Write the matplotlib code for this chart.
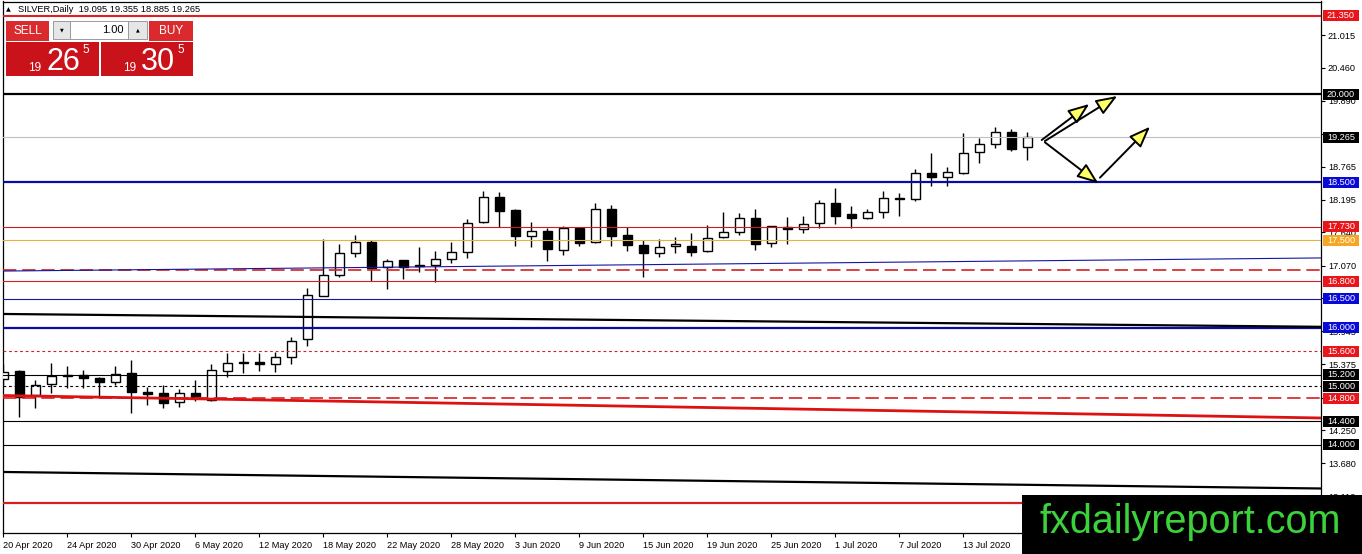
import numpy as np
import pandas as pd
import matplotlib
matplotlib.use('Agg')
import matplotlib.pyplot as plt
import matplotlib.transforms as mtransforms
from matplotlib.patches import Rectangle, FancyArrowPatch

# SILVER daily candles, 20 Apr - 17 Jul 2020
dates = pd.bdate_range('2020-04-20', periods=65)
opens = [15.126, 15.268, 14.852, 15.040, 15.190, 15.199, 15.138, 15.080, 15.229, 14.900,
         14.880, 14.727, 14.890, 14.766, 15.268, 15.410, 15.417, 15.378, 15.498, 15.806,
         16.553, 16.903, 17.280, 17.478, 17.040, 17.165, 17.085, 17.079, 17.187, 17.297,
         17.810, 18.239, 18.021, 17.581, 17.661, 17.341, 17.708, 17.468, 18.033, 17.593,
         17.416, 17.279, 17.399, 17.404, 17.319, 17.553, 17.639, 17.879, 17.450, 17.735,
         17.690, 17.793, 18.136, 17.953, 17.879, 17.982, 18.233, 18.205, 18.650, 18.592,
         18.650, 19.010, 19.152, 19.352, 19.095]
highs = [15.383, 15.280, 15.109, 15.395, 15.340, 15.280, 15.155, 15.350, 15.450, 14.994,
         15.023, 14.950, 15.109, 15.383, 15.577, 15.577, 15.577, 15.594, 15.851, 16.680,
         17.524, 17.440, 17.593, 17.500, 17.190, 17.170, 17.393, 17.314, 17.473, 17.862,
         18.347, 18.325, 18.030, 17.810, 17.718, 17.747, 17.715, 18.136, 18.107, 17.735,
         17.500, 17.519, 17.553, 17.632, 17.764, 17.992, 17.964, 18.033, 17.750, 17.896,
         17.918, 18.193, 18.393, 18.090, 18.033, 18.347, 18.318, 18.724, 18.993, 18.753,
         19.335, 19.250, 19.438, 19.404, 19.355]
lows = [14.994, 14.480, 14.624, 14.890, 14.967, 14.970, 14.835, 15.020, 14.550, 14.680,
        14.634, 14.650, 14.754, 14.750, 15.155, 15.224, 15.268, 15.250, 15.383, 15.690,
        16.550, 16.880, 17.210, 16.810, 16.660, 16.834, 16.964, 16.793, 17.118, 17.204,
        17.790, 17.735, 17.410, 17.393, 17.153, 17.255, 17.410, 17.460, 17.410, 17.324,
        16.879, 17.220, 17.279, 17.233, 17.310, 17.545, 17.593, 17.336, 17.382, 17.434,
        17.632, 17.708, 17.776, 17.708, 17.875, 17.890, 17.924, 18.180, 18.432, 18.432,
        18.645, 18.821, 19.078, 19.037, 18.885]
closes = [15.251, 14.812, 15.023, 15.177, 15.170, 15.138, 15.080, 15.206, 14.898, 14.875,
          14.710, 14.880, 14.795, 15.280, 15.395, 15.400, 15.378, 15.498, 15.782, 16.560,
          16.903, 17.280, 17.478, 17.033, 17.140, 17.050, 17.062, 17.177, 17.297, 17.793,
          18.239, 18.010, 17.581, 17.661, 17.358, 17.708, 17.451, 18.033, 17.581, 17.427,
          17.290, 17.382, 17.433, 17.307, 17.537, 17.639, 17.879, 17.434, 17.747, 17.690,
          17.776, 18.136, 17.924, 17.890, 17.982, 18.222, 18.205, 18.650, 18.581, 18.667,
          18.993, 19.147, 19.352, 19.066, 19.265]

# horizontal levels: price, colour, width, style, label colour (None = no label)
levels = [
    (21.350, '#e02020', 1.5, '-', '#e8161b'),
    (20.000, 'black', 1.6, '-', 'black'),
    (19.265, '#c0c0c0', 0.8, '-', 'black'),
    (18.500, '#0a0aa8', 1.6, '-', '#0a0ad8'),
    (17.730, '#c81e1e', 0.8, '-', '#e8161b'),
    (17.500, '#e8b040', 0.8, '-', '#f5a623'),
    (17.000, '#d42020', 1.2, (0, (8, 3.5)), None),
    (16.800, '#d42020', 0.8, '-', '#e8161b'),
    (16.500, '#1515a0', 0.8, '-', '#0a0ad8'),
    (16.000, '#0a0aa8', 1.6, '-', '#0a0ad8'),
    (15.600, '#d42020', 0.8, (0, (2.5, 2.5)), '#e8161b'),
    (15.200, 'black', 0.8, '-', 'black'),
    (15.000, 'black', 0.8, (0, (2.5, 2.5)), 'black'),
    (14.800, '#d42020', 1.2, (0, (8, 3.5)), '#e8161b'),
    (14.400, 'black', 0.8, '-', 'black'),
    (14.000, 'black', 0.8, '-', 'black'),
    (13.000, '#d42020', 1.6, '-', '#e8161b'),
]

# sloped trend lines: (bar, price) -> (bar, price)
trend_lines = [
    ((-0.04, 16.975), (82.36, 17.200), '#1515a0', 0.8),
    ((-0.04, 16.240), (82.36, 16.020), 'black', 1.6),
    ((-0.04, 14.843), (82.36, 14.458), '#dd1111', 2.0),
    ((-0.04, 13.533), (82.36, 13.250), 'black', 1.6),
]

# yellow arrows drawn after the last bar
arrows = [
    ((64.9, 19.220), (67.87, 19.837)),
    ((65.1, 19.203), (69.62, 19.974)),
    ((65.1, 19.181), (68.44, 18.479)),
    ((68.54, 18.575), (71.67, 19.448)),
]

yticks = [21.015, 20.460, 19.890, 19.320, 18.765, 18.195, 17.640, 17.070, 16.515,
          15.945, 15.375, 14.805, 14.250, 13.680, 13.110]

FONT = 'Liberation Sans'
W, H = 1362, 554

fig = plt.figure(figsize=(W / 100, H / 100), dpi=100, facecolor='white')
ax = fig.add_axes([2.7 / W, (H - 532.7) / H, (1321 - 2.7) / W, (532.7 - 1.5) / H])
ax.set_xlim(-0.0375, 82.356)
ax.set_ylim(12.4926, 21.5933)

x = np.arange(len(opens))
o, hi, lo, c = map(np.array, (opens, highs, lows, closes))
up = c >= o
ax.vlines(x, lo, hi, color='black', lw=1.0, zorder=2)
ax.bar(x[up], (c - o)[up], bottom=o[up], width=0.56, facecolor='white',
       edgecolor='black', lw=1.0, zorder=3)
ax.bar(x[~up], (o - c)[~up], bottom=c[~up], width=0.56, facecolor='black',
       edgecolor='black', lw=1.0, zorder=3)

for price, col, lw, ls, lab in levels:
    ax.axhline(price, color=col, lw=lw, linestyle=ls, zorder=4)

for (x0, p0), (x1, p1), col, lw in trend_lines:
    ax.plot([x0, x1], [p0, p1], color=col, lw=lw, zorder=4, solid_capstyle='butt')

for start, tip in arrows:
    ax.add_patch(FancyArrowPatch(start, tip, arrowstyle='-|>,head_length=13,head_width=5',
                                 mutation_scale=1, facecolor='#ffff66', edgecolor='black',
                                 lw=1.4, zorder=6, shrinkA=0, shrinkB=0))

# axes / ticks
for s in ax.spines.values():
    s.set_linewidth(0.9)
ax.yaxis.tick_right()
ax.set_yticks(yticks)
ax.set_yticklabels(['%.3f' % v for v in yticks], fontsize=6.6, family=FONT)
ax.tick_params(axis='y', length=3, width=0.8, pad=2)
ax.set_xticks(np.arange(0, len(dates), 4))
ax.set_xticklabels(['%d %s' % (d.day, d.strftime('%b %Y')) for d in dates[::4]],
                   fontsize=6.6, family=FONT, ha='left')
ax.tick_params(axis='x', length=3, width=0.8, pad=3)

# price labels on the right axis
blend = mtransforms.blended_transform_factory(ax.transAxes, ax.transData)
box_w = 36 / (1321 - 2.7)
box_h = 11 / 58.37
for price, col, lw, ls, lab in levels:
    if lab is None:
        continue
    ax.add_patch(Rectangle((1.0015, price - box_h / 2), box_w, box_h, transform=blend,
                           facecolor=lab, edgecolor='none', clip_on=False, zorder=7))
    ax.text(1.0015 + box_w / 2, price, '%.3f' % price, transform=blend, color='white',
            fontsize=6.6, family=FONT, ha='center', va='center', clip_on=False, zorder=8)

# overlay in pixel coordinates: header, trade panel, watermark
ov = fig.add_axes([0, 0, 1, 1])
ov.set_xlim(0, W)
ov.set_ylim(H, 0)
ov.axis('off')
ov.patch.set_alpha(0)

ov.text(6, 10, '\u25b2', fontsize=4.5, va='center', ha='left', family='DejaVu Sans')
ov.text(18, 10, 'SILVER,Daily  19.095 19.355 18.885 19.265', fontsize=6.7,
        va='center', ha='left', family=FONT)

red_btn = '#db2a2e'
red_box = '#c9121a'
ov.add_patch(Rectangle((6, 21), 43, 20, facecolor=red_btn, edgecolor='none'))
ov.text(27.5, 31, 'SELL', color='white', fontsize=8.5, ha='center', va='center', family=FONT)
ov.add_patch(Rectangle((53, 21), 17, 18, facecolor='#e6e6e6', edgecolor='#9a9a9a', lw=0.7))
ov.text(61.5, 30, '\u25bc', fontsize=3.5, ha='center', va='center', family='DejaVu Sans')
ov.add_patch(Rectangle((70, 21), 58, 18, facecolor='white', edgecolor='#9a9a9a', lw=0.7))
ov.text(124, 30, '1.00', fontsize=8, ha='right', va='center', family=FONT)
ov.add_patch(Rectangle((128, 21), 19, 18, facecolor='#e6e6e6', edgecolor='#9a9a9a', lw=0.7))
ov.text(137.5, 30, '\u25b2', fontsize=3.5, ha='center', va='center', family='DejaVu Sans')
ov.add_patch(Rectangle((149, 21), 44, 20, facecolor=red_btn, edgecolor='none'))
ov.text(171, 31, 'BUY', color='white', fontsize=8.5, ha='center', va='center', family=FONT)

ov.add_patch(Rectangle((6, 42), 93, 34, facecolor=red_box, edgecolor='none'))
ov.add_patch(Rectangle((101, 42), 92, 34, facecolor=red_box, edgecolor='none'))
for bx, big in ((0, '26'), (95, '30')):
    ov.text(28 + bx, 71, '19', color='white', fontsize=8.5, ha='left', va='baseline', family=FONT)
    ov.text(46 + bx, 70, big, color='white', fontsize=22, ha='left', va='baseline', family=FONT)
    ov.text(82 + bx, 53, '5', color='white', fontsize=8.5, ha='left', va='baseline', family=FONT)

ov.add_patch(Rectangle((1022, 495), 340, 59, facecolor='black', edgecolor='none'))
ov.text(1190, 522, 'fxdailyreport.com', color='#3cd23c', fontsize=28.5,
        ha='center', va='center', family=FONT)

fig.savefig('out.png', dpi=100, facecolor='white')
